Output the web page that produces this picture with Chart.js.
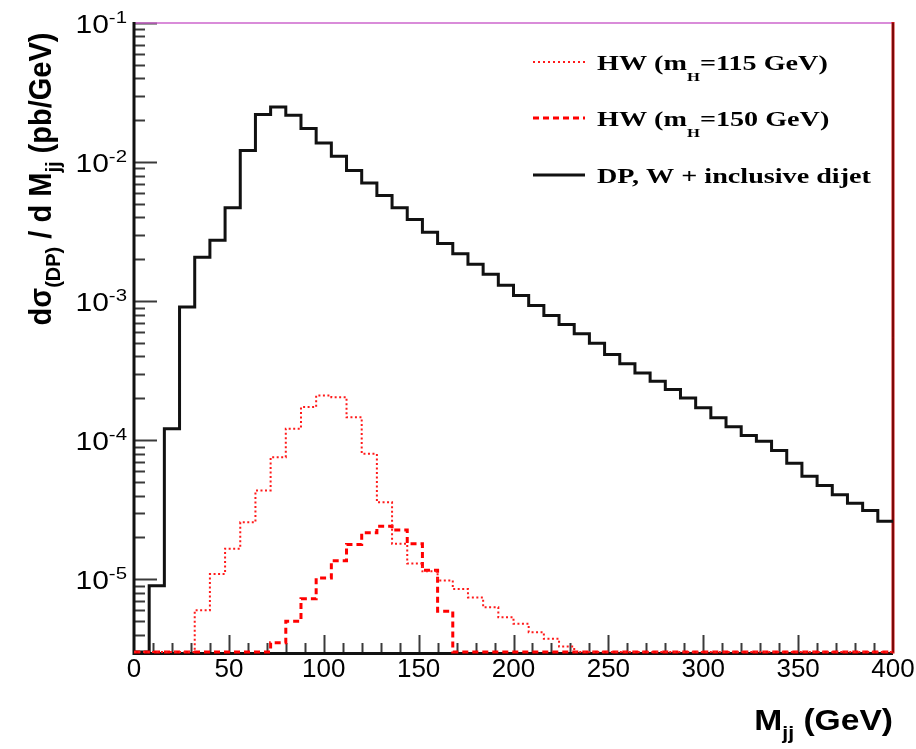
<!DOCTYPE html>
<html>
<head>
<meta charset="utf-8">
<script src="https://cdn.jsdelivr.net/npm/chart.js@4.4.1/dist/chart.umd.min.js"></script>
<style>
  html, body { margin: 0; padding: 0; background: #ffffff; }
  #wrap { width: 916px; height: 749px; }
</style>
</head>
<body>
<div id="wrap"><canvas id="c" width="916" height="749"></canvas></div>
<script>
// Dijet invariant mass, 8 GeV bins from 0 to 400 GeV
const binEdges = [0, 8, 16, 24, 32, 40, 48, 56, 64, 72, 80, 88, 96, 104, 112, 120, 128, 136, 144, 152,
  160, 168, 176, 184, 192, 200, 208, 216, 224, 232, 240, 248, 256, 264, 272, 280, 288, 296, 304, 312,
  320, 328, 336, 344, 352, 360, 368, 376, 384, 392, 400];

// dσ/dM_jj (pb/GeV), one value per bin
const hw115 = [0, 0, 0, 0, 6.0e-6, 1.09e-5, 1.66e-5, 2.57e-5, 4.35e-5, 7.55e-5,
  1.21e-4, 1.73e-4, 2.10e-4, 2.04e-4, 1.46e-4, 7.98e-5, 3.58e-5, 1.80e-5, 1.30e-5, 1.14e-5,
  9.8e-6, 8.5e-6, 7.4e-6, 6.3e-6, 5.33e-6, 4.78e-6, 4.16e-6, 3.73e-6, 3.28e-6, 0,
  0, 0, 0, 0, 0, 0, 0, 0, 0, 0,
  0, 0, 0, 0, 0, 0, 0, 0, 0, 0];

const hw150 = [0, 0, 0, 0, 0, 0, 0, 0, 0, 3.5e-6,
  5.0e-6, 7.23e-6, 1.02e-5, 1.36e-5, 1.78e-5, 2.16e-5, 2.41e-5, 2.26e-5, 1.80e-5, 1.16e-5,
  5.9e-6, 0, 0, 0, 0, 0, 0, 0, 0, 0,
  0, 0, 0, 0, 0, 0, 0, 0, 0, 0,
  0, 0, 0, 0, 0, 0, 0, 0, 0, 0];

const dpWjj = [0, 9.0e-6, 1.21e-4, 9.06e-4, 2.07e-3, 2.74e-3, 4.7e-3, 1.21e-2, 2.2e-2, 2.49e-2,
  2.17e-2, 1.74e-2, 1.37e-2, 1.10e-2, 8.71e-3, 7.06e-3, 5.76e-3, 4.70e-3, 3.86e-3, 3.13e-3,
  2.60e-3, 2.19e-3, 1.84e-3, 1.56e-3, 1.30e-3, 1.10e-3, 9.31e-4, 7.88e-4, 6.80e-4, 5.82e-4,
  4.99e-4, 4.14e-4, 3.55e-4, 3.04e-4, 2.65e-4, 2.32e-4, 2.01e-4, 1.71e-4, 1.45e-4, 1.25e-4,
  1.08e-4, 9.84e-5, 8.44e-5, 6.84e-5, 5.51e-5, 4.72e-5, 4.06e-5, 3.52e-5, 3.12e-5, 2.61e-5];

// Axis range and labels
const X_MIN = 0, X_MAX = 400;
const Y_MIN = 3e-6, Y_MAX = 0.1;
const xTickLabels = [0, 50, 100, 150, 200, 250, 300, 350, 400];
const yDecades = [-1, -2, -3, -4, -5];

// Empty bins sit on the floor of the log axis, as in a ROOT histogram
function histPoints(values) {
  const pts = values.map((v, i) => ({ x: binEdges[i], y: v > 0 ? v : Y_MIN }));
  pts.push({ x: binEdges[values.length], y: pts[pts.length - 1].y });
  return pts;
}

// Draws a run of text pieces (for sub/superscripts) with an optional horizontal stretch
function drawRich(ctx, parts, x, y, opts) {
  ctx.save();
  ctx.translate(x, y);
  if (opts.sx) ctx.scale(opts.sx, 1);
  if (opts.rotate) ctx.rotate(opts.rotate);
  let total = 0;
  parts.forEach(p => { ctx.font = p.font; p.w = ctx.measureText(p.t).width + (p.gap || 0); total += p.w; });
  let cx = opts.align === 'right' ? -total : opts.align === 'center' ? -total / 2 : 0;
  ctx.textAlign = 'left';
  ctx.textBaseline = 'alphabetic';
  parts.forEach(p => {
    ctx.font = p.font;
    ctx.fillStyle = p.color || opts.color || '#000';
    ctx.fillText(p.t, cx, p.dy || 0);
    cx += p.w;
  });
  ctx.restore();
}

const SANS = '"Liberation Sans", Arial, Helvetica, sans-serif';
const SERIF = '"Liberation Serif", "Times New Roman", serif';

const framePlugin = {
  id: 'frame',
  beforeDatasetsDraw(chart) {
    const { ctx, chartArea: a, scales: { x, y } } = chart;
    ctx.save();
    // tick marks, pointing into the plot
    ctx.strokeStyle = '#3a3a3a';
    ctx.lineWidth = 2;
    for (let e = -6; e <= -2; e++) {
      for (let m = 1; m <= 9; m++) {
        const v = m * Math.pow(10, e);
        if (v < Y_MIN * 0.999 || v > Y_MAX * 1.001) continue;
        const py = Math.round(y.getPixelForValue(v)) + 0.5;
        const len = m === 1 ? 23 : 11;
        ctx.beginPath(); ctx.moveTo(a.left, py); ctx.lineTo(a.left + len, py); ctx.stroke();
      }
    }
    ctx.beginPath(); ctx.moveTo(a.left, a.top + 0.5); ctx.lineTo(a.left + 23, a.top + 0.5); ctx.stroke();
    for (let t = X_MIN + 10; t < X_MAX; t += 10) {
      const px = Math.round(x.getPixelForValue(t)) + 0.5;
      const len = t % 50 === 0 ? 17 : 9;
      ctx.beginPath(); ctx.moveTo(px, a.bottom); ctx.lineTo(px, a.bottom - len); ctx.stroke();
    }
    // frame
    ctx.lineWidth = 1.5;
    ctx.strokeStyle = '#cc66cc';
    ctx.beginPath(); ctx.moveTo(a.left, a.top); ctx.lineTo(a.right, a.top); ctx.stroke();
    ctx.lineWidth = 3;
    ctx.strokeStyle = '#111';
    ctx.beginPath(); ctx.moveTo(a.left, a.top - 1); ctx.lineTo(a.left, a.bottom + 1.5); ctx.lineTo(a.right, a.bottom + 1.5); ctx.stroke();
    ctx.strokeStyle = '#cc1010';
    ctx.beginPath(); ctx.moveTo(a.right, a.top - 1); ctx.lineTo(a.right, a.bottom + 1.5); ctx.stroke();
    ctx.lineWidth = 1;
    ctx.strokeStyle = '#300000';
    ctx.beginPath(); ctx.moveTo(a.right, a.top); ctx.lineTo(a.right, a.bottom); ctx.stroke();
    ctx.restore();
  },
  afterDraw(chart) {
    const { ctx, chartArea: a, scales: { x, y } } = chart;
    // x tick labels
    xTickLabels.forEach(v => {
      drawRich(ctx, [{ t: String(v), font: '26px ' + SANS }], x.getPixelForValue(v), a.bottom + 25, { align: 'center', sx: 1.0 });
    });
    // y tick labels 10^n
    yDecades.forEach(e => {
      const py = y.getPixelForValue(Math.pow(10, e));
      drawRich(ctx, [
        { t: '10', font: '25px ' + SANS },
        { t: String(e), font: '17px ' + SANS, dy: -10 }
      ], a.left - 7, py + 10, { align: 'right', sx: 1.2 });
    });
    // axis titles
    drawRich(ctx, [
      { t: 'M', font: 'bold 30px ' + SANS },
      { t: 'jj', font: 'bold 19px ' + SANS, dy: 9 },
      { t: ' (GeV)', font: 'bold 30px ' + SANS }
    ], a.right, a.bottom + 78, { align: 'right', sx: 1.12 });
    drawRich(ctx, [
      { t: 'dσ', font: 'bold 29px ' + SANS },
      { t: '(DP)', font: 'bold 20px ' + SANS, dy: 9 },
      { t: ' / d M', font: 'bold 29px ' + SANS },
      { t: 'jj', font: 'bold 20px ' + SANS, dy: 9 },
      { t: ' (pb/GeV)', font: 'bold 29px ' + SANS }
    ], 51, 179, { align: 'center', rotate: -Math.PI / 2, sx: 1.05 });
    // legend
    const rows = [
      { ds: 0, y: 62, parts: [['HW (m', 0, 22], ['H', 11, 13], ['=115 GeV)', 0, 22]] },
      { ds: 1, y: 118, parts: [['HW (m', 0, 22], ['H', 11, 13], ['=150 GeV)', 0, 22]] },
      { ds: 2, y: 175, parts: [['DP, W + inclusive dijet', 0, 22]] }
    ];
    rows.forEach(r => {
      const d = chart.data.datasets[r.ds];
      ctx.save();
      ctx.strokeStyle = d.borderColor;
      ctx.lineWidth = d.borderWidth;
      ctx.setLineDash(r.ds === 0 ? [2, 3] : (d.borderDash || []));
      ctx.beginPath(); ctx.moveTo(533, r.y); ctx.lineTo(585, r.y); ctx.stroke();
      ctx.restore();
      drawRich(ctx, r.parts.map(p => ({ t: p[0], dy: p[1], font: 'bold ' + p[2] + 'px ' + SERIF })), 597, r.y + 7.5, { align: 'left', sx: 1.28 });
    });
  }
};

new Chart(document.getElementById('c'), {
  type: 'line',
  data: {
    datasets: [
      { label: 'HW (mH=115 GeV)', data: histPoints(hw115), stepped: 'before', borderColor: '#ff1a1a', borderWidth: 2, borderDash: [2, 2.5], fill: false, clip: false, pointRadius: 0 },
      { label: 'HW (mH=150 GeV)', data: histPoints(hw150), stepped: 'before', borderColor: '#ff0000', borderWidth: 3, borderDash: [6, 4], fill: false, clip: false, pointRadius: 0 },
      { label: 'DP, W + inclusive dijet', data: histPoints(dpWjj), stepped: 'before', borderColor: '#111111', borderWidth: 3, fill: false, clip: false, pointRadius: 0 }
    ]
  },
  options: {
    responsive: false,
    animation: false,
    devicePixelRatio: 1,
    layout: { padding: { left: 134, right: 23, top: 23, bottom: 97 } },
    plugins: { legend: { display: false }, tooltip: { enabled: false } },
    scales: {
      x: { type: 'linear', min: X_MIN, max: X_MAX, display: false },
      y: { type: 'logarithmic', min: Y_MIN, max: Y_MAX, display: false }
    },
    elements: { line: { tension: 0 } }
  },
  plugins: [framePlugin]
});
</script>
</body>
</html>
